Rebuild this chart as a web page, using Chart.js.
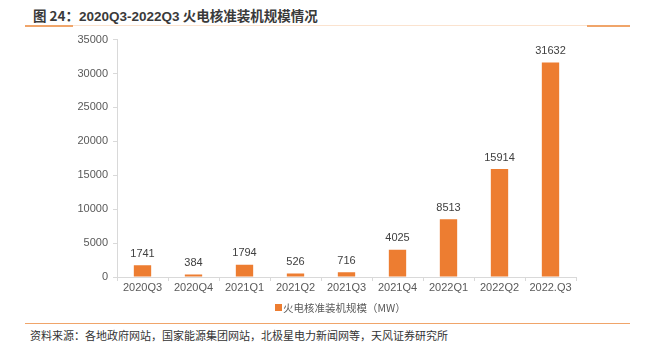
<!DOCTYPE html>
<html lang="zh">
<head>
<meta charset="UTF-8">
<title>火电核准装机规模情况</title>
<script src="https://cdn.jsdelivr.net/npm/chart.js"></script>
<style>
  body { margin: 0; width: 650px; height: 342px; background: #fff; position: relative; overflow: hidden;
         font-family: "Liberation Sans", "Noto Sans CJK SC", sans-serif; }
  .title { position: absolute; left: 33px; top: 5px; font-size: 13.5px; font-weight: bold; color: #3a3a3a;
           font-family: "Noto Sans CJK SC", sans-serif; }
  .title span { font-family: "Liberation Sans", sans-serif; }
  .topline { position: absolute; left: 25px; top: 25px; width: 605px; height: 1px; background: #fbe3cf; }
  .seg { position: absolute; top: 25px; height: 2px; background: #f0a56a; }
  .botline { position: absolute; left: 25px; top: 323px; width: 605px; height: 1px; background: #f0a56a; }
  .source { position: absolute; left: 30px; top: 327px; font-size: 11px; color: #333;
            font-family: "Noto Sans CJK SC", sans-serif; }
  .wrap { position: absolute; left: 0; top: 28px; width: 650px; height: 292px; }
</style>
</head>
<body>
<div class="title">图 24：<span>2020Q3-2022Q3</span> 火电核准装机规模情况</div>
<div class="topline"></div>
<div class="seg" style="left:25px;width:48px"></div>
<div class="seg" style="left:587px;width:43px"></div>
<div class="wrap"><canvas id="c"></canvas></div>
<div class="botline"></div>
<div class="source">资料来源：各地政府网站，国家能源集团网站，北极星电力新闻网等，天风证券研究所</div>
<script>
const quarters = ['2020Q3', '2020Q4', '2021Q1', '2021Q2', '2021Q3', '2021Q4', '2022Q1', '2022Q2', '2022.Q3'];
const capacityMW = [1741, 384, 1794, 526, 716, 4025, 8513, 15914, 31632];
const seriesName = '火电核准装机规模（MW）';
const yTicks = [0, 5000, 10000, 15000, 20000, 25000, 30000, 35000];
const barColor = '#ed7d31';

// value labels above bars + legend drawn under the axis
const barLabels = {
  id: 'barLabels',
  afterDatasetsDraw(chart) {
    const ctx = chart.ctx;
    const meta = chart.getDatasetMeta(0);
    ctx.save();
    ctx.font = '11px "Liberation Sans", Arial, sans-serif';
    ctx.fillStyle = '#404040';
    ctx.textAlign = 'center';
    ctx.textBaseline = 'bottom';
    meta.data.forEach((bar, i) => {
      ctx.fillText(capacityMW[i], bar.x, bar.y - 6);
    });

    // legend
    const ly = chart.chartArea.bottom + 31;
    const lx = chart.chartArea.left + 158;
    ctx.fillStyle = barColor;
    ctx.fillRect(lx, ly - 4, 7, 7);
    ctx.fillStyle = '#595959';
    ctx.font = '10.5px "Noto Sans CJK SC", sans-serif';
    ctx.textAlign = 'left';
    ctx.textBaseline = 'middle';
    ctx.fillText(chart.data.datasets[0].label, lx + 8, ly);
    ctx.restore();
  }
};

new Chart(document.getElementById('c'), {
  type: 'bar',
  data: {
    labels: quarters,
    datasets: [{
      label: seriesName,
      data: capacityMW,
      backgroundColor: barColor,
      categoryPercentage: 1,
      barPercentage: 0.34
    }]
  },
  options: {
    responsive: true,
    maintainAspectRatio: false,
    animation: false,
    layout: { padding: { top: 8, right: 74, bottom: 21, left: 0 } },
    plugins: {
      tooltip: { enabled: false },
      legend: { display: false }
    },
    scales: {
      x: {
        grid: { display: true, drawOnChartArea: false, offset: true, tickLength: 4, color: '#d9d9d9' },
        border: { color: '#d9d9d9' },
        ticks: { color: '#595959', font: { size: 11, family: '"Liberation Sans", Arial' }, padding: 0, maxRotation: 0 },
        afterFit(s) { s.height = 22; }
      },
      y: {
        min: 0, max: 35000,
        afterBuildTicks(s) { s.ticks = yTicks.map(v => ({ value: v })); },
        grid: { drawOnChartArea: false, tickLength: 4, color: '#d9d9d9' },
        border: { color: '#d9d9d9' },
        ticks: { color: '#595959', font: { size: 11, family: '"Liberation Sans", Arial' }, padding: 5,
                 callback: v => String(v) },
        afterFit(s) { s.width = 117; }
      }
    }
  },
  plugins: [barLabels]
});
</script>
</body>
</html>
